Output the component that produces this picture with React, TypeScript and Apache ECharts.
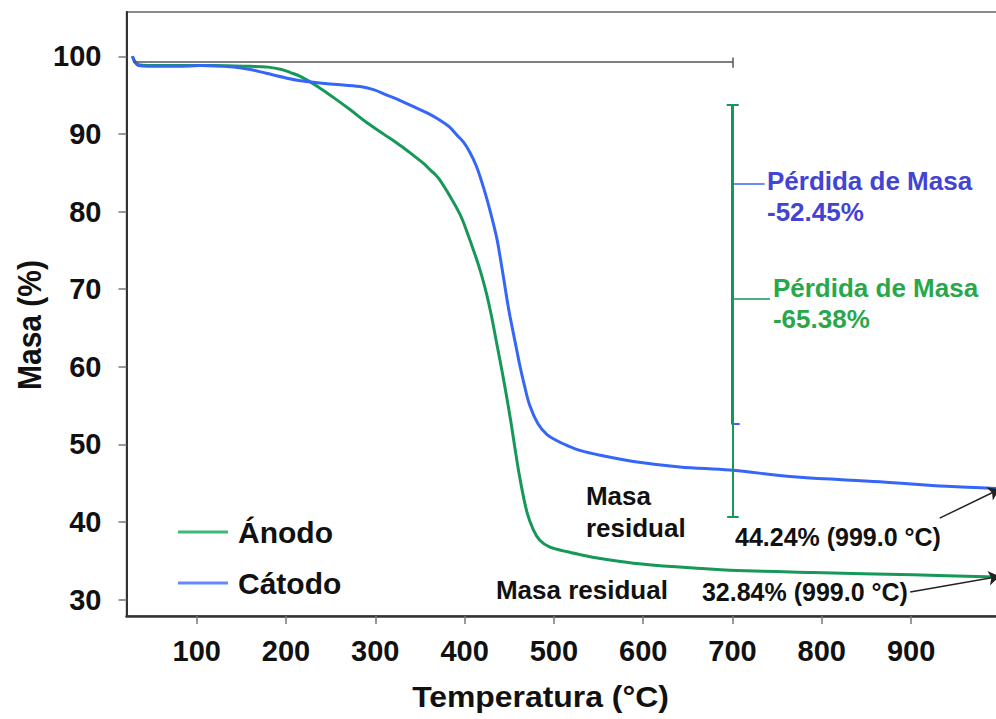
import React, { useEffect, useRef } from "react";
import * as echarts from "echarts";

// ---- Data ----
const anodoTemp = [28, 31, 35, 45, 80, 120, 160, 180, 195, 205, 216, 234, 253, 272, 290, 309, 328, 343, 355, 362, 366, 372, 384, 395, 402, 413, 419, 425, 430, 436, 442, 447, 452, 456, 462, 470, 477, 484, 495, 514, 530, 552, 589, 641, 697, 790, 902, 999];
const anodoMass = [100, 99.3, 98.9, 98.8, 98.8, 98.8, 98.7, 98.6, 98.3, 97.9, 97.4, 96.2, 94.7, 93.1, 91.5, 90.0, 88.5, 87.2, 86.1, 85.3, 84.9, 84.1, 81.9, 79.6, 77.6, 74.0, 71.8, 69.2, 66.6, 63.0, 59.4, 56.2, 52.8, 49.8, 45.6, 41.2, 39.0, 37.7, 36.8, 36.2, 35.8, 35.3, 34.7, 34.2, 33.8, 33.5, 33.2, 32.9];

const catodoTemp = [28, 31, 35, 45, 80, 104, 141, 160, 178, 200, 216, 235, 253, 283, 298, 313, 328, 343, 358, 372, 383, 391, 399, 406, 413, 419, 425, 431, 436, 440, 444, 448, 451, 455, 459, 462, 467, 473, 482, 492, 503, 514, 530, 552, 589, 641, 697, 772, 865, 940, 999];
const catodoMass = [100, 99.2, 98.8, 98.7, 98.7, 98.8, 98.6, 98.3, 97.8, 97.2, 96.85, 96.6, 96.4, 96.1, 95.7, 95.0, 94.3, 93.5, 92.7, 91.8, 90.9, 89.9, 88.9, 87.6, 85.9, 83.9, 81.6, 79.0, 76.6, 74.0, 71.2, 68.3, 66.4, 64.1, 61.8, 60.1, 57.6, 55.0, 52.7, 51.3, 50.5, 49.9, 49.2, 48.6, 47.8, 47.1, 46.7, 45.8, 45.2, 44.6, 44.3];

const xTicks = [100, 200, 300, 400, 500, 600, 700, 800, 900];
const yTicks = [30, 40, 50, 60, 70, 80, 90, 100];
const seriesNames = ["Ánodo", "Cátodo"];

// annotation values (data space)
const markTemp = 700;
const baselineMass = 99.23;
const lossTop = 93.7;
const catodoLossBottom = 52.6;
const anodoLossBottom = 40.7;
const catodoLossMid = 83.6;
const anodoLossMid = 68.8;
const finalTemp = 999;
const catodoFinal = 44.24;
const anodoFinal = 33.0;

const FONT = "'Liberation Sans', Arial, Helvetica, sans-serif";
const GREEN = "#169858";
const BLUE = "#3566f8";
const LEGEND_GREEN = "#3cb878";
const LEGEND_BLUE = "#6688ff";
const TEXT_BLUE = "#4343d4";
const TEXT_GREEN = "#28a84a";
const INK = "#111111";

export default function App() {
  const ref = useRef<HTMLDivElement>(null);

  useEffect(() => {
    if (!ref.current) return;
    const chart = echarts.init(ref.current, null, { renderer: "svg" });

    const seg = (a: number[], b: number[], color: string, width = 2) => ({
      coords: [a, b],
      lineStyle: { color, width, opacity: 1 },
    });

    const lbl = (value: number[], text: string, color: string, fontSize: number, lineHeight = 31) => ({
      value,
      label: {
        show: true,
        formatter: text,
        position: "right",
        distance: 0,
        align: "left",
        verticalAlign: "middle",
        color,
        opacity: 1,
        fontSize,
        fontWeight: "bold",
        fontFamily: FONT,
        lineHeight,
      },
    });

    chart.setOption({
      animation: false,
      backgroundColor: "#ffffff",
      grid: {
        left: 126.5,
        top: 12,
        width: 873.9,
        height: 604,
        show: true,
        borderColor: "#666",
        borderWidth: 1.5,
        containLabel: false,
      },
      legend: {
        data: [
          { name: seriesNames[0], itemStyle: { color: LEGEND_GREEN } },
          { name: seriesNames[1], itemStyle: { color: LEGEND_BLUE } },
        ],
        icon: "rect",
        orient: "vertical",
        left: 173,
        top: 512,
        itemWidth: 50,
        itemHeight: 3,
        itemGap: 21,
        textStyle: {
          fontSize: 30,
          fontWeight: "bold",
          fontFamily: FONT,
          color: INK,
          lineHeight: 30,
          padding: [0, 0, 0, 5],
        },
      },
      xAxis: {
        type: "value",
        min: 21.4,
        max: 1000,
        splitLine: { show: false },
        axisLine: { show: true, onZero: false, lineStyle: { color: "#333", width: 2.5 } },
        axisTick: { show: true, customValues: xTicks, length: 8, lineStyle: { color: "#777", width: 1.5 } },
        axisLabel: {
          customValues: xTicks,
          fontSize: 29,
          fontWeight: "bold",
          fontFamily: FONT,
          color: INK,
          margin: 20,
        },
      },
      yAxis: {
        type: "value",
        min: 27.9,
        max: 105.7,
        splitLine: { show: false },
        axisLine: { show: true, onZero: false, lineStyle: { color: "#333", width: 2 } },
        axisTick: { show: true, customValues: yTicks, length: 8, lineStyle: { color: "#777", width: 1.5 } },
        axisLabel: {
          customValues: yTicks,
          fontSize: 29,
          fontWeight: "bold",
          fontFamily: FONT,
          color: INK,
          margin: 25,
        },
      },
      graphic: [
        {
          type: "text",
          x: 540.5,
          y: 697,
          scaleX: 1.1,
          style: {
            text: "Temperatura (°C)",
            align: "center",
            verticalAlign: "middle",
            fontSize: 29,
            fontWeight: "bold",
            fontFamily: FONT,
            fill: INK,
          },
        },
        {
          type: "text",
          x: 29,
          y: 325,
          rotation: Math.PI / 2,
          scaleY: 1.1,
          style: {
            text: "Masa (%)",
            align: "center",
            verticalAlign: "middle",
            fontSize: 30,
            fontWeight: "bold",
            fontFamily: FONT,
            fill: INK,
          },
        },
      ],
      series: [
        {
          name: seriesNames[0],
          type: "line",
          data: anodoTemp.map((t, i) => [t, anodoMass[i]]),
          showSymbol: false,
          symbol: "none",
          smooth: 0.35,
          lineStyle: { color: GREEN, width: 3 },
          itemStyle: { color: GREEN },
          z: 2,
        },
        {
          name: seriesNames[1],
          type: "line",
          data: catodoTemp.map((t, i) => [t, catodoMass[i]]),
          showSymbol: false,
          symbol: "none",
          smooth: 0.35,
          lineStyle: { color: BLUE, width: 3 },
          itemStyle: { color: BLUE },
          z: 2,
        },
        {
          name: "brackets",
          type: "lines",
          coordinateSystem: "cartesian2d",
          polyline: false,
          silent: true,
          symbol: "none",
          z: 3,
          data: [
            seg([28.7, baselineMass], [markTemp + 0.5, baselineMass], "#555", 1.5),
            seg([markTemp + 0.5, baselineMass + 0.6], [markTemp + 0.5, baselineMass - 0.7], "#555", 1.5),
            seg([markTemp - 1, lossTop], [markTemp - 1, catodoLossBottom], BLUE, 2),
            seg([markTemp - 1, catodoLossBottom], [markTemp + 8, catodoLossBottom], BLUE, 2),
            seg([markTemp - 1, catodoLossMid], [markTemp + 36, catodoLossMid], BLUE, 1.5),
            seg([markTemp + 0.5, lossTop], [markTemp + 0.5, anodoLossBottom], GREEN, 2),
            seg([markTemp - 6.5, lossTop], [markTemp + 7, lossTop], GREEN, 2),
            seg([markTemp - 6, anodoLossBottom], [markTemp + 7, anodoLossBottom], GREEN, 2),
            seg([markTemp + 0.5, anodoLossMid], [markTemp + 42, anodoLossMid], GREEN, 1.5),
          ],
        },
        {
          name: "arrows",
          type: "lines",
          coordinateSystem: "cartesian2d",
          polyline: false,
          silent: true,
          symbol: ["none", "arrow"],
          symbolSize: 11,
          z: 4,
          data: [
            seg([932, 40.5], [finalTemp, catodoFinal], "#222", 1.5),
            seg([899, 31.0], [finalTemp, anodoFinal], "#222", 1.5),
          ],
        },
        {
          name: "annotations",
          type: "scatter",
          symbolSize: 0,
          silent: true,
          itemStyle: { opacity: 1 },
          z: 5,
          data: [
            lbl([738.6, 81.9], "Pérdida de Masa\n-52.45%", TEXT_BLUE, 26),
            lbl([745.3, 68.1], "Pérdida de Masa\n-65.38%", TEXT_GREEN, 26),
            lbl([535.9, 41.3], "Masa\nresidual", INK, 26, 32),
            lbl([702.8, 38.1], "44.24% (999.0 °C)", INK, 25),
            lbl([435.1, 31.25], "Masa residual", INK, 26),
            lbl([665.8, 31.0], "32.84% (999.0 °C)", INK, 25),
          ],
        },
      ],
    });

    return () => chart.dispose();
  }, []);

  return (
    <div
      style={{
        position: "fixed",
        left: 0,
        top: 0,
        width: 996,
        height: 719,
        overflow: "hidden",
        background: "#fff",
      }}
    >
      <div ref={ref} style={{ width: 1002, height: 719 }} />
    </div>
  );
}
